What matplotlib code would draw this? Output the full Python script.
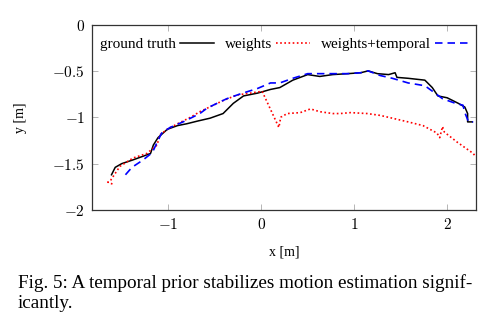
import matplotlib.pyplot as plt

# trajectories in the x-y plane [m]
gt_x = [-1.61, -1.57, -1.50, -1.38, -1.27, -1.19, -1.16, -1.11, -1.01, -0.90, -0.80,
        -0.68, -0.55, -0.41, -0.30, -0.19, -0.04, 0.10, 0.20, 0.34, 0.50, 0.63, 0.77,
        0.93, 1.07, 1.15, 1.25, 1.37, 1.44, 1.46, 1.58, 1.76, 1.84, 1.90, 2.00, 2.12,
        2.19, 2.22, 2.22, 2.27]
gt_y = [-1.62, -1.54, -1.50, -1.46, -1.42, -1.39, -1.30, -1.22, -1.13, -1.09, -1.07,
        -1.04, -1.01, -0.96, -0.85, -0.77, -0.74, -0.70, -0.68, -0.60, -0.54, -0.56,
        -0.54, -0.53, -0.52, -0.50, -0.53, -0.54, -0.52, -0.57, -0.58, -0.60, -0.68,
        -0.77, -0.79, -0.85, -0.89, -0.96, -1.05, -1.05]

w_x = [-1.60, -1.65, -1.62, -1.52, -1.38, -1.23, -1.12, -1.09, -1.01, -0.90, -0.76,
       -0.66, -0.41, -0.26, -0.12, 0.01, 0.19, 0.21, 0.28, 0.42, 0.53, 0.63, 0.77,
       0.85, 0.96, 1.14, 1.28, 1.41, 1.58, 1.74, 1.89, 1.92, 1.95, 1.97, 2.11, 2.28,
       2.31]
w_y = [-1.72, -1.70, -1.68, -1.53, -1.44, -1.39, -1.30, -1.19, -1.13, -1.07, -1.00,
       -0.94, -0.82, -0.76, -0.74, -0.72, -1.11, -1.00, -0.96, -0.95, -0.91, -0.94,
       -0.96, -0.96, -0.95, -0.96, -0.98, -1.01, -1.05, -1.09, -1.17, -1.22, -1.10,
       -1.16, -1.27, -1.39, -1.43]

wt_x = [-1.46, -1.39, -1.27, -1.17, -1.12, -1.07, -0.98, -0.84, -0.66, -0.58, -0.37,
        -0.23, -0.04, 0.10, 0.20, 0.34, 0.50, 0.67, 0.93, 1.07, 1.15, 1.28, 1.41,
        1.58, 1.76, 1.87, 1.95, 2.09, 2.17, 2.19, 2.23, 2.28]
wt_y = [-1.62, -1.54, -1.46, -1.38, -1.27, -1.17, -1.11, -1.05, -0.96, -0.90, -0.80,
        -0.75, -0.69, -0.63, -0.63, -0.58, -0.53, -0.53, -0.53, -0.52, -0.50, -0.55,
        -0.58, -0.63, -0.66, -0.74, -0.80, -0.85, -0.87, -0.95, -1.05, -1.05]

x_ticks = [-1, 0, 1, 2]
y_ticks = [0, -0.5, -1, -1.5, -2]


def tex_label(t):
    return '$%g$' % t if t >= 0 else '$-%g$' % -t


plt.rcParams['font.family'] = 'serif'
plt.rcParams['font.serif'] = ['Liberation Serif']
plt.rcParams['mathtext.fontset'] = 'cm'

fig = plt.figure(figsize=(4.98, 3.22), dpi=100)
ax = fig.add_axes([0.1847, 0.3478, 0.7711, 0.5761])

ax.plot(gt_x, gt_y, color='black', lw=1.1, label='ground truth')
ax.plot(w_x, w_y, color='#ff0000', lw=1.2, ls=(0, (1, 1.5)), label='weights')
ax.plot(wt_x, wt_y, color='#0000ff', lw=1.2, ls=(0, (4.5, 3)), label='weights+temporal')

ax.set_xlim(-1.82, 2.31)
ax.set_ylim(-2, 0)
ax.set_xticks(x_ticks)
ax.set_xticklabels([tex_label(t) for t in x_ticks])
ax.set_yticks(y_ticks)
ax.set_yticklabels([tex_label(t) for t in y_ticks])
ax.tick_params(direction='in', length=4, width=0.6, color='#aaaaaa',
               top=True, right=True, labelsize=11, pad=5)
for s in ax.spines.values():
    s.set_linewidth(0.9)
    s.set_color('#333333')

ax.set_xlabel('x [m]', fontsize=10, labelpad=10)
ax.set_ylabel('y [m]', fontsize=10, labelpad=18)

ax.legend(loc='center', bbox_to_anchor=(0.501, 0.892), ncol=3, frameon=False,
          markerfirst=False, fontsize=11, handlelength=2.2, handletextpad=0.3,
          columnspacing=0.7, borderaxespad=0)

fig.text(18 / 498, 1 - 283 / 322, 'Fig. 5: A temporal prior stabilizes motion estimation signif-',
         fontsize=13.8, va='center', ha='left')
fig.text(18 / 498, 1 - 304 / 322, 'icantly.', fontsize=13.8, va='center', ha='left')

fig.savefig('out.png', dpi=100)
